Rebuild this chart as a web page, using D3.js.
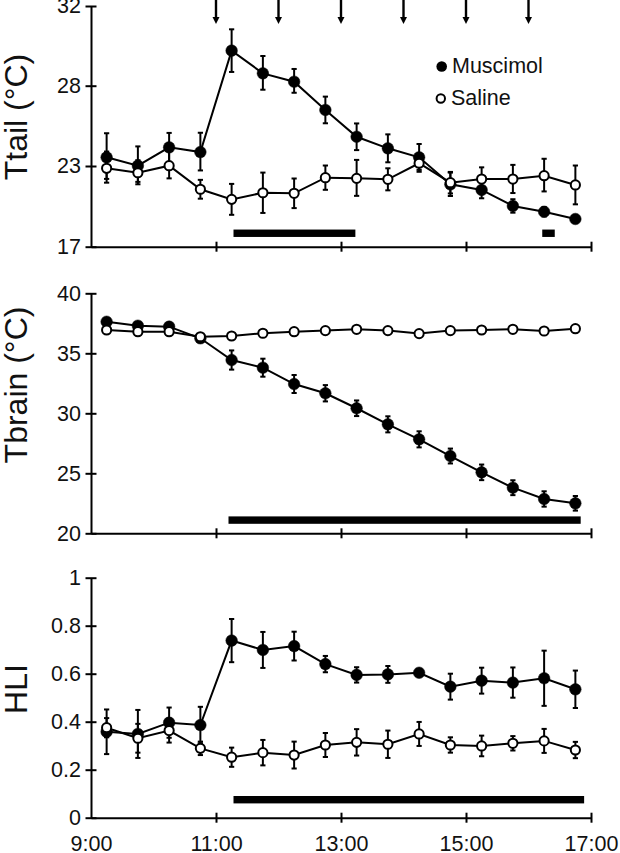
<!DOCTYPE html>
<html>
<head>
<meta charset="utf-8">
<script src="https://cdn.jsdelivr.net/npm/d3@7"></script>
<style>
html,body{margin:0;padding:0;background:#fff;}
svg{display:block;font-family:"Liberation Sans",Arial,Helvetica,sans-serif;}
</style>
</head>
<body>
<svg id="chart" width="620" height="853"></svg>
<script>
// ---- data ----
const times = [9.25, 9.75, 10.25, 10.75, 11.25, 11.75, 12.25, 12.75, 13.25, 13.75, 14.25, 14.75, 15.25, 15.75, 16.25, 16.75];
const xTickValues = [9, 11, 13, 15, 17];
const xTickLabels = ["9:00", "11:00", "13:00", "15:00", "17:00"];
const injectionTimes = [11, 12, 13, 14, 15, 16];

const muscimolTail = [23.54, 23.02, 24.16, 23.87, 29.76, 28.62, 28.2, 26.49, 24.82, 24.1, 23.54, 21.64, 21.22, 20.03, 19.6, 19.06];
const muscimolTailErr = [1.5, 1.2, 0.9, 1.2, 1.07, 0.87, 0.64, 0.83, 0.83, 0.87, 0.83, 0.87, 0.62, 0.5, 0.35, 0.3];
const salineTail = [22.83, 22.5, 23.02, 21.27, 20.52, 21.01, 20.97, 22.13, 22.08, 22.01, 23.17, 21.76, 22.03, 22.03, 22.28, 21.59];
const salineTailErr = [1.07, 0.86, 0.94, 0.7, 1.15, 1.5, 1.1, 0.9, 1.3, 0.82, 0.6, 0.8, 0.87, 1.04, 1.17, 1.44];
const tailTicks = [17, 23, 28, 32];
const tailSigBars = [[11.28, 13.23], [16.22, 16.42]];
const tailSigLevel = 18.0;

const muscimolBrain = [37.63, 37.3, 37.22, 36.25, 34.44, 33.8, 32.44, 31.67, 30.42, 29.08, 27.83, 26.44, 25.08, 23.8, 22.86, 22.5];
const muscimolBrainErr = [0.3, 0.3, 0.3, 0.2, 0.8, 0.75, 0.75, 0.68, 0.65, 0.67, 0.67, 0.62, 0.65, 0.62, 0.64, 0.61];
const salineBrain = [36.94, 36.8, 36.8, 36.38, 36.44, 36.67, 36.8, 36.89, 37.0, 36.89, 36.64, 36.89, 36.94, 37.0, 36.86, 37.05];
const salineBrainErr = [0.2, 0.2, 0.2, 0.2, 0.2, 0.2, 0.2, 0.2, 0.2, 0.2, 0.2, 0.2, 0.2, 0.2, 0.2, 0.2];
const brainTicks = [20, 25, 30, 35, 40];
const brainSigBars = [[11.2, 16.835]];
const brainSigLevel = 21.1;

const muscimolHLI = [0.358, 0.349, 0.396, 0.386, 0.738, 0.699, 0.715, 0.64, 0.595, 0.597, 0.604, 0.546, 0.571, 0.563, 0.581, 0.535];
const muscimolHLIErr = [0.093, 0.1, 0.063, 0.076, 0.09, 0.075, 0.06, 0.034, 0.032, 0.035, 0.01, 0.054, 0.054, 0.063, 0.115, 0.078];
const salineHLI = [0.375, 0.331, 0.363, 0.289, 0.252, 0.271, 0.261, 0.303, 0.314, 0.306, 0.349, 0.303, 0.299, 0.31, 0.32, 0.282];
const salineHLIErr = [0.04, 0.06, 0.05, 0.028, 0.04, 0.053, 0.056, 0.05, 0.055, 0.057, 0.05, 0.032, 0.043, 0.03, 0.05, 0.034];
const hliTicks = [0, 0.2, 0.4, 0.6, 0.8, 1];
const hliSigBars = [[11.28, 16.89]];
const hliSigLevel = 0.075;

const legendLabels = ["Muscimol", "Saline"];

// ---- layout ----
const svg = d3.select("#chart");
const x = d3.scaleLinear().domain([9, 17]).range([91, 591]);

const panels = [
  {title: "Ttail (°C)", titleY: 117, y: d3.scaleLinear().domain([17, 23, 28, 32]).range([246.7, 166, 85.7, 6]),
   ticks: tailTicks, fmt: d => String(d), m: muscimolTail, me: muscimolTailErr, s: salineTail, se: salineTailErr,
   bars: tailSigBars, barLevel: tailSigLevel},
  {title: "Tbrain (°C)", titleY: 385, y: d3.scaleLinear().domain([20, 40]).range([533.3, 293.3]),
   ticks: brainTicks, fmt: d => String(d), m: muscimolBrain, me: muscimolBrainErr, s: salineBrain, se: salineBrainErr,
   bars: brainSigBars, barLevel: brainSigLevel},
  {title: "HLI", titleY: 689, y: d3.scaleLinear().domain([0, 1]).range([817.7, 577.7]),
   ticks: hliTicks, fmt: d => String(d), m: muscimolHLI, me: muscimolHLIErr, s: salineHLI, se: salineHLIErr,
   bars: hliSigBars, barLevel: hliSigLevel, xLabels: true}
];

const SW = 2;

panels.forEach(p => {
  const g = svg.append("g");
  const y = p.y;
  const y0 = y(p.y.domain()[0]);

  // significance bars
  g.selectAll("rect.sig").data(p.bars).join("rect")
    .attr("x", d => x(d[0])).attr("width", d => x(d[1]) - x(d[0]))
    .attr("y", y(p.barLevel) - 3.7).attr("height", 7.4).attr("fill", "#000");

  // axes
  const yAxis = d3.axisLeft(y).tickValues(p.ticks).tickFormat(p.fmt).tickSize(0).tickPadding(10);
  const ya = g.append("g").attr("transform", `translate(${x(9)},0)`).call(yAxis);
  ya.select(".domain").attr("stroke-width", SW).attr("stroke", "#000");
  ya.selectAll(".tick text").attr("font-size", 21.5).attr("fill", "#111").attr("x", -10);
  ya.selectAll(".tick").append("line").attr("x1", -5.5).attr("x2", 5.5).attr("stroke", "#000").attr("stroke-width", SW);

  const xAxis = d3.axisBottom(x).tickValues(xTickValues).tickSize(0).tickFormat((d, i) => p.xLabels ? xTickLabels[i] : "");
  const xa = g.append("g").attr("transform", `translate(0,${y0})`).call(xAxis);
  xa.select(".domain").attr("stroke-width", SW).attr("stroke", "#000");
  xa.selectAll(".tick").filter(d => d !== 9).append("line").attr("y1", -5).attr("y2", 5).attr("stroke", "#000").attr("stroke-width", SW);
  xa.selectAll(".tick text").attr("font-size", 21.5).attr("fill", "#111").attr("dy", null).attr("y", 33);

  // title
  g.append("text").attr("transform", `translate(27,${p.titleY}) rotate(-90)`)
    .attr("text-anchor", "middle").attr("font-size", 32).attr("fill", "#111").text(p.title);

  const line = d3.line().x((d, i) => x(times[i])).y(d => y(d));

  function series(vals, errs, filled) {
    const sg = g.append("g");
    sg.append("path").datum(vals).attr("d", line).attr("fill", "none").attr("stroke", "#000").attr("stroke-width", SW);
    const eb = sg.selectAll("g.err").data(vals).join("g");
    eb.append("line").attr("x1", (d, i) => x(times[i])).attr("x2", (d, i) => x(times[i]))
      .attr("y1", (d, i) => y(d - errs[i])).attr("y2", (d, i) => y(d + errs[i]))
      .attr("stroke", "#000").attr("stroke-width", SW);
    [-1, 1].forEach(sgn => {
      eb.append("line").attr("x1", (d, i) => x(times[i]) - 2.6).attr("x2", (d, i) => x(times[i]) + 2.6)
        .attr("y1", (d, i) => y(d + sgn * errs[i])).attr("y2", (d, i) => y(d + sgn * errs[i]))
        .attr("stroke", "#000").attr("stroke-width", SW);
    });
    sg.selectAll("circle").data(vals).join("circle")
      .attr("cx", (d, i) => x(times[i])).attr("cy", d => y(d))
      .attr("r", filled ? 5.8 : 4.6)
      .attr("fill", filled ? "#000" : "#fff").attr("stroke", "#000").attr("stroke-width", filled ? 0.5 : 2);
  }
  series(p.m, p.me, true);
  series(p.s, p.se, false);
});

// injection arrows
const ag = svg.append("g");
ag.selectAll("line").data(injectionTimes).join("line")
  .attr("x1", d => x(d)).attr("x2", d => x(d)).attr("y1", 0).attr("y2", 19)
  .attr("stroke", "#000").attr("stroke-width", 2.4);
ag.selectAll("path").data(injectionTimes).join("path")
  .attr("d", d => `M${x(d) - 3.5},17 L${x(d) + 3.5},17 L${x(d)},24 Z`).attr("fill", "#000");

// legend
const lg = svg.append("g");
lg.append("circle").attr("cx", 441.7).attr("cy", 66.5).attr("r", 5.3).attr("fill", "#000");
lg.append("circle").attr("cx", 440.8).attr("cy", 98.5).attr("r", 4.2).attr("fill", "#fff").attr("stroke", "#000").attr("stroke-width", 2);
lg.append("text").attr("x", 452).attr("y", 73).attr("font-size", 21.5).attr("fill", "#111").text(legendLabels[0]);
lg.append("text").attr("x", 451).attr("y", 105).attr("font-size", 21.5).attr("fill", "#111").text(legendLabels[1]);
</script>
</body>
</html>
